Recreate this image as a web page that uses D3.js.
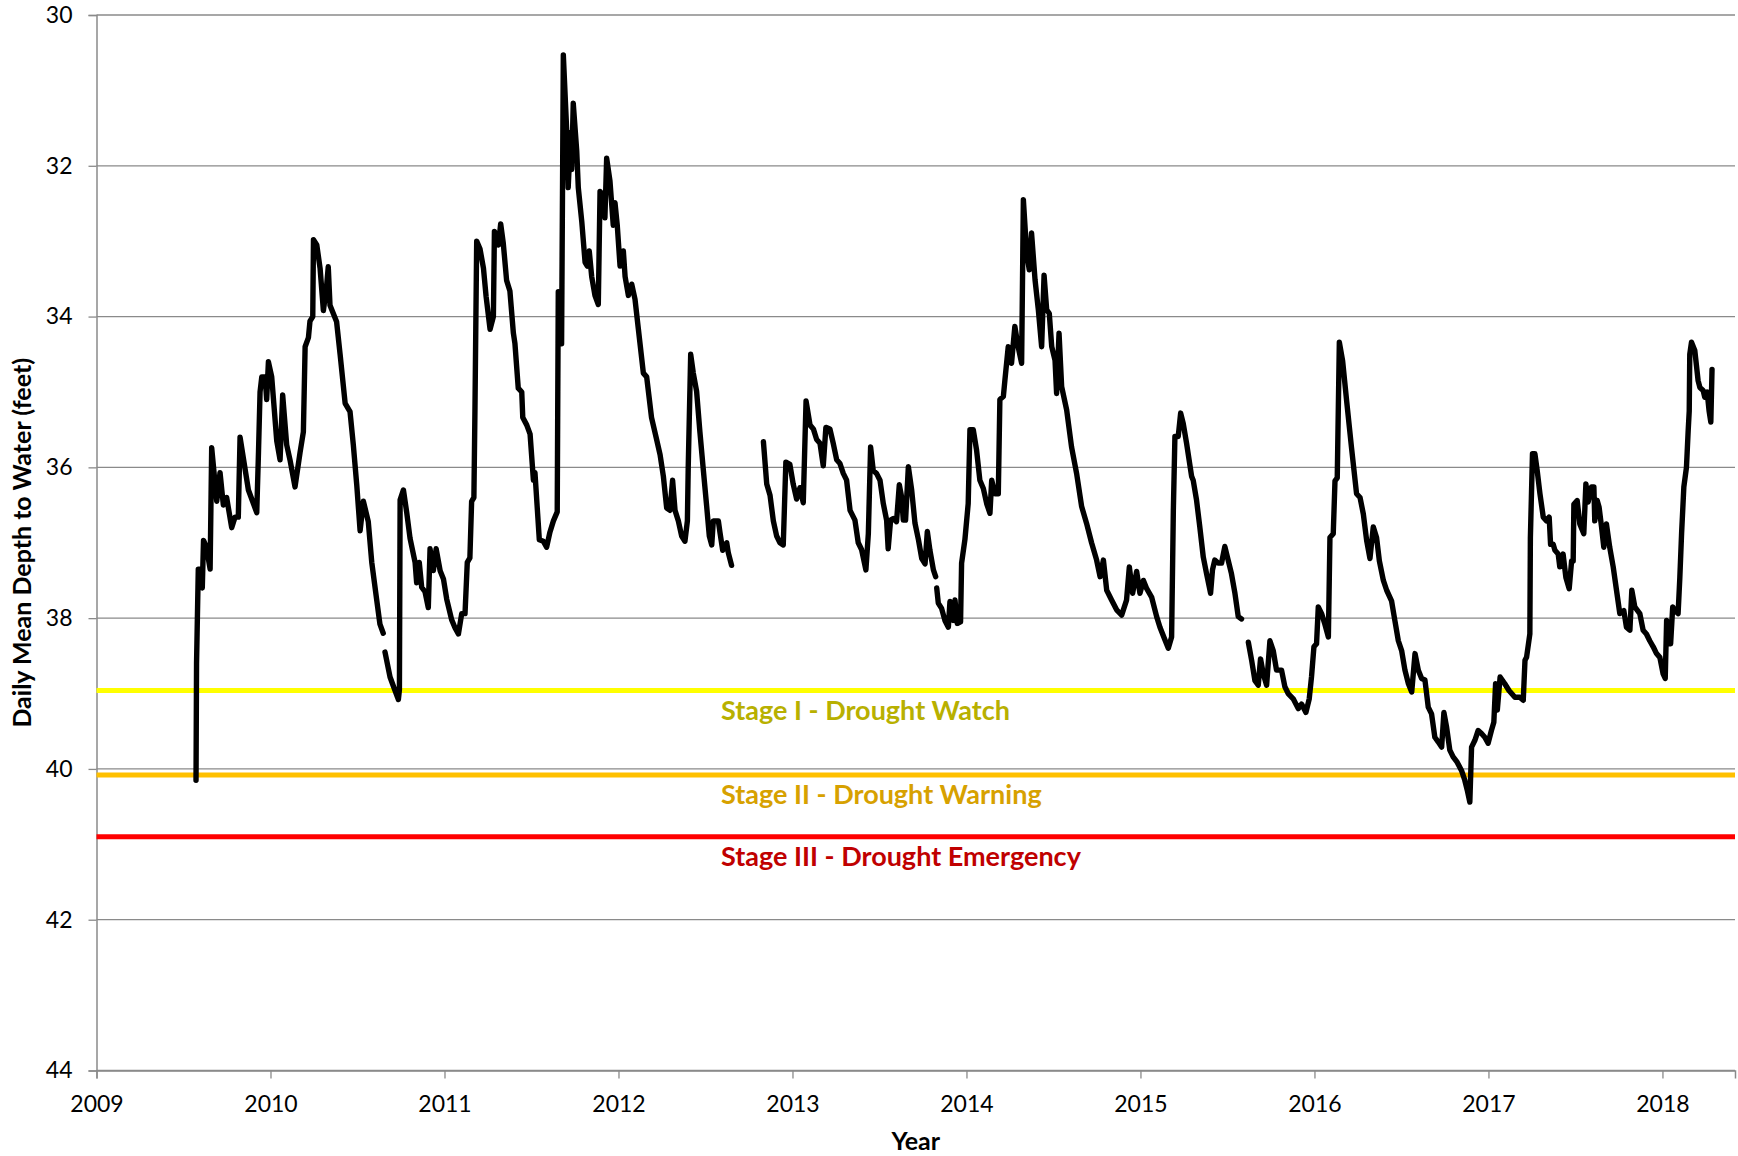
<!DOCTYPE html>
<html>
<head>
<meta charset="utf-8">
<script src="https://cdn.jsdelivr.net/npm/d3@7"></script>
<style>
  html, body { margin: 0; padding: 0; background: #fff; }
  svg { display: block; font-family: Lato, "Open Sans", sans-serif; }
</style>
</head>
<body>
<svg id="chart" width="1738" height="1156"></svg>
<script>
// data: [decimal year, depth to water in feet]
// the record has gaps, so it is kept as separate runs
const run2009 = [
  [2009.572,40.15],[2009.575,38.6],[2009.585,37.35],[2009.599,37.35],[2009.608,37.6],[2009.615,36.97],
  [2009.631,37.05],[2009.653,37.35],[2009.662,35.74],[2009.691,36.45],[2009.710,36.07],[2009.729,36.5],
  [2009.748,36.4],[2009.777,36.8],[2009.796,36.66],[2009.815,36.66],[2009.825,35.6],[2009.873,36.3],
  [2009.921,36.6],[2009.931,35.8],[2009.940,35.0],[2009.950,34.8],[2009.969,34.8],[2009.978,35.1],
  [2009.988,34.6],[2010.007,34.8],[2010.036,35.65],[2010.055,35.9],[2010.070,35.04],[2010.093,35.7],
  [2010.112,35.9],[2010.141,36.26],[2010.170,35.8],[2010.189,35.53],[2010.199,34.4],[2010.218,34.28],
  [2010.227,34.06],[2010.243,34.0],[2010.247,32.98],[2010.266,33.05],[2010.285,33.36],[2010.304,33.92],
  [2010.323,33.58],[2010.332,33.34],[2010.342,33.85],[2010.361,33.96],[2010.380,34.07],[2010.400,34.5],
  [2010.429,35.15],[2010.457,35.26],[2010.476,35.7],[2010.496,36.24],[2010.515,36.84],[2010.534,36.45],
  [2010.562,36.72],[2010.582,37.26],[2010.610,37.75],[2010.629,38.08],[2010.648,38.2]
];

const run2010 = [
  [2010.658,38.45],[2010.687,38.78],[2010.706,38.9],[2010.735,39.08],[2010.741,38.95],[2010.745,36.43],
  [2010.764,36.3],[2010.783,36.6],[2010.802,36.94],[2010.831,37.26],[2010.840,37.53],[2010.855,37.26],
  [2010.869,37.59],[2010.888,37.65],[2010.907,37.86],[2010.917,37.08],[2010.936,37.37],[2010.952,37.08],
  [2010.975,37.37],[2010.994,37.48],[2011.013,37.75],[2011.041,38.02],[2011.061,38.13],[2011.080,38.21],
  [2011.099,37.94],[2011.118,37.94],[2011.131,37.26],[2011.146,37.2],[2011.156,36.45],[2011.169,36.4],
  [2011.175,35.26],[2011.185,33.0],[2011.204,33.1],[2011.224,33.36],[2011.239,33.73],[2011.262,34.17],
  [2011.281,34.0],[2011.287,32.87],[2011.310,33.05],[2011.323,32.77],[2011.338,33.03],[2011.357,33.52],
  [2011.376,33.66],[2011.396,34.22],[2011.405,34.36],[2011.424,34.95],[2011.444,35.0],[2011.450,35.34],
  [2011.473,35.44],[2011.492,35.56],[2011.511,36.17],[2011.520,36.07],[2011.545,36.96],[2011.568,36.98],
  [2011.587,37.06],[2011.606,36.86],[2011.626,36.71],[2011.648,36.59],[2011.654,33.67],[2011.664,34.36],
  [2011.673,34.36],[2011.683,30.53],[2011.703,31.56],[2011.711,32.29],[2011.725,31.56],[2011.731,32.05],
  [2011.740,31.17],[2011.760,31.8],[2011.769,32.29],[2011.789,32.74],[2011.808,33.28],[2011.821,33.33],
  [2011.832,33.13],[2011.846,33.47],[2011.865,33.72],[2011.884,33.84],[2011.894,32.34],[2011.913,32.39],
  [2011.922,32.69],[2011.932,31.9],[2011.951,32.2],[2011.970,32.79],[2011.980,32.49],[2011.993,32.79],
  [2012.009,33.33],[2012.028,33.13],[2012.038,33.47],[2012.057,33.72],[2012.076,33.57],[2012.095,33.77],
  [2012.114,34.16],[2012.143,34.75],[2012.162,34.8],[2012.190,35.34],[2012.219,35.63],[2012.239,35.83],
  [2012.258,36.12],[2012.277,36.54],[2012.296,36.57],[2012.311,36.17],[2012.325,36.57],[2012.344,36.71],
  [2012.363,36.91],[2012.382,36.98],[2012.396,36.71],[2012.401,35.98],[2012.415,34.5],[2012.430,34.75],
  [2012.449,34.99],[2012.468,35.53],[2012.487,36.02],[2012.507,36.52],[2012.522,36.91],[2012.536,37.03],
  [2012.545,36.71],[2012.574,36.71],[2012.583,36.86],[2012.599,37.1],[2012.622,37.0],[2012.631,37.13],
  [2012.650,37.3]
];

const run2012 = [
  [2012.833,35.66],[2012.852,36.22],[2012.871,36.37],[2012.890,36.71],[2012.909,36.91],[2012.928,37.0],
  [2012.947,37.03],[2012.962,35.93],[2012.985,35.96],[2013.004,36.22],[2013.024,36.42],[2013.043,36.27],
  [2013.062,36.47],[2013.078,35.12],[2013.101,35.44],[2013.120,35.49],[2013.139,35.63],[2013.158,35.68],
  [2013.177,35.98],[2013.192,35.47],[2013.215,35.49],[2013.234,35.68],[2013.254,35.9],[2013.273,35.95],
  [2013.292,36.08],[2013.311,36.17],[2013.331,36.57],[2013.359,36.7],[2013.378,37.0],[2013.397,37.09],
  [2013.422,37.36],[2013.436,36.88],[2013.449,35.73],[2013.464,36.04],[2013.483,36.08],[2013.503,36.17],
  [2013.522,36.48],[2013.541,36.7],[2013.550,37.08],[2013.564,36.7],[2013.579,36.68],[2013.598,36.72],
  [2013.614,36.23],[2013.627,36.39],[2013.637,36.7],[2013.650,36.7],[2013.666,35.99],[2013.685,36.3],
  [2013.704,36.74],[2013.724,36.96],[2013.743,37.21],[2013.762,37.28],[2013.775,36.85],[2013.790,37.1],
  [2013.810,37.36],[2013.823,37.45]
];

const run2013 = [
  [2013.829,37.6],[2013.838,37.8],[2013.857,37.87],[2013.876,38.03],[2013.896,38.12],[2013.905,37.78],
  [2013.924,38.03],[2013.934,37.76],[2013.947,38.07],[2013.966,38.05],[2013.972,37.27],[2013.991,36.96],
  [2014.010,36.48],[2014.020,35.5],[2014.039,35.5],[2014.058,35.77],[2014.077,36.17],[2014.097,36.28],
  [2014.116,36.48],[2014.135,36.61],[2014.145,36.17],[2014.164,36.35],[2014.183,36.35],[2014.192,35.1],
  [2014.212,35.06],[2014.221,34.84],[2014.240,34.4],[2014.259,34.62],[2014.278,34.13],[2014.297,34.4],
  [2014.317,34.62],[2014.327,32.45],[2014.346,33.16],[2014.361,33.38],[2014.374,32.89],[2014.394,33.51],
  [2014.413,33.91],[2014.432,34.4],[2014.446,33.45],[2014.461,33.91],[2014.476,33.96],[2014.490,34.4],
  [2014.509,34.58],[2014.518,35.02],[2014.532,34.22],[2014.547,34.93],[2014.576,35.24],[2014.604,35.73],
  [2014.633,36.08],[2014.662,36.52],[2014.690,36.74],[2014.719,37.0],[2014.748,37.23],[2014.768,37.45],
  [2014.787,37.23],[2014.806,37.63],[2014.834,37.76],[2014.863,37.89],[2014.892,37.96],[2014.920,37.76],
  [2014.936,37.32],[2014.955,37.67],[2014.978,37.38],[2014.997,37.67],[2015.017,37.5],[2015.036,37.61],
  [2015.064,37.72],[2015.093,37.98],[2015.112,38.12],[2015.141,38.29],[2015.160,38.4],[2015.179,38.25],
  [2015.189,36.57],[2015.198,35.59],[2015.217,35.59],[2015.231,35.28],[2015.246,35.42],[2015.265,35.68],
  [2015.294,36.12],[2015.303,36.17],[2015.322,36.43],[2015.341,36.79],[2015.361,37.19],[2015.380,37.41],
  [2015.403,37.67],[2015.414,37.36],[2015.427,37.23],[2015.446,37.27],[2015.466,37.27],[2015.485,37.05],
  [2015.504,37.23],[2015.523,37.41],[2015.543,37.67],[2015.562,37.98],[2015.581,38.01]
];

const run2015 = [
  [2015.620,38.32],[2015.639,38.56],[2015.658,38.83],[2015.677,38.89],[2015.690,38.54],[2015.706,38.74],
  [2015.725,38.89],[2015.744,38.3],[2015.763,38.43],[2015.782,38.69],[2015.811,38.69],[2015.830,38.91],
  [2015.849,39.0],[2015.878,39.07],[2015.907,39.2],[2015.926,39.14],[2015.951,39.25],[2015.970,39.07],
  [2015.983,38.78],[2015.997,38.38],[2016.012,38.34],[2016.022,37.85],[2016.041,37.94],[2016.060,38.08],
  [2016.080,38.25],[2016.089,36.93],[2016.108,36.88],[2016.118,36.18],[2016.131,36.14],[2016.143,34.34],
  [2016.162,34.59],[2016.185,35.12],[2016.213,35.74],[2016.242,36.35],[2016.262,36.4],[2016.281,36.62],
  [2016.300,36.97],[2016.319,37.21],[2016.338,36.79],[2016.357,36.93],[2016.373,37.24],[2016.396,37.5],
  [2016.415,37.63],[2016.443,37.77],[2016.462,38.03],[2016.482,38.3],[2016.501,38.43],[2016.520,38.69],
  [2016.540,38.87],[2016.559,38.98],[2016.578,38.47],[2016.597,38.69],[2016.616,38.8],[2016.635,38.82],
  [2016.654,39.18],[2016.673,39.27],[2016.692,39.58],[2016.711,39.64],[2016.731,39.71],[2016.744,39.25],
  [2016.759,39.44],[2016.778,39.75],[2016.797,39.84],[2016.820,39.91],[2016.845,40.02],[2016.864,40.15],
  [2016.878,40.28],[2016.893,40.44],[2016.903,39.71],[2016.922,39.62],[2016.941,39.49],[2016.960,39.53],
  [2016.979,39.58],[2016.998,39.66],[2017.017,39.49],[2017.031,39.38],[2017.041,38.87],[2017.051,39.22],
  [2017.067,38.78],[2017.094,38.87],[2017.118,38.96],[2017.152,39.05],[2017.180,39.05],[2017.200,39.09],
  [2017.210,38.56],[2017.219,38.52],[2017.238,38.21],[2017.241,36.93],[2017.253,35.82],[2017.267,35.82],
  [2017.280,36.04],[2017.296,36.35],[2017.315,36.66],[2017.334,36.71],[2017.349,36.66],[2017.357,37.02],
  [2017.372,37.02],[2017.382,37.1],[2017.401,37.15],[2017.410,37.32],[2017.429,37.15],[2017.445,37.46],
  [2017.464,37.61],[2017.478,37.24],[2017.487,37.24],[2017.491,36.49],[2017.510,36.44],[2017.525,36.75],
  [2017.548,36.88],[2017.560,36.22],[2017.573,36.46],[2017.592,36.26],[2017.606,36.26],[2017.611,36.71],
  [2017.625,36.44],[2017.636,36.53],[2017.650,36.79],[2017.663,37.06],[2017.678,36.75],[2017.697,37.06],
  [2017.717,37.32],[2017.736,37.63],[2017.755,37.94],[2017.778,37.9],[2017.793,38.12],[2017.813,38.16],
  [2017.824,37.63],[2017.841,37.85],[2017.870,37.94],[2017.889,38.16],[2017.908,38.21],[2017.927,38.3],
  [2017.947,38.38],[2017.966,38.47],[2017.985,38.52],[2018.004,38.74],[2018.016,38.8],[2018.024,38.03],
  [2018.039,38.07],[2018.047,38.34],[2018.059,37.85],[2018.071,37.9],[2018.090,37.94],[2018.100,37.46],
  [2018.110,36.88],[2018.123,36.26],[2018.138,36.0],[2018.148,35.51],[2018.154,35.25],[2018.157,34.5],
  [2018.167,34.34],[2018.186,34.45],[2018.205,34.85],[2018.215,34.94],[2018.234,34.98],[2018.243,35.07],
  [2018.257,35.0],[2018.268,35.25],[2018.278,35.4],[2018.285,34.7]
];

const runs = [run2009, run2010, run2012, run2013, run2015];

// drought trigger levels
const stageNames = ["Stage I - Drought Watch", "Stage II - Drought Warning", "Stage III - Drought Emergency"];
const stageDepths = [38.96, 40.08, 40.9];

// axis ticks
const yearTicks = [2009, 2010, 2011, 2012, 2013, 2014, 2015, 2016, 2017, 2018];
const depthTicks = [30, 32, 34, 36, 38, 40, 42, 44];

// styles
const stageLineColors = ["#ffff00", "#ffc000", "#ff0000"];
const stageTextColors = ["#b8b000", "#d7a100", "#c00000"];
const gridColor = "#8a8a8a";

const plot = { left: 96.5, right: 1735, top: 15, bottom: 1070.5 };

const svg = d3.select("#chart");

const x = d3.scaleLinear()
  .domain([2009, 2018.417])
  .range([plot.left, plot.right]);

const y = d3.scaleLinear()
  .domain([30, 44])
  .range([plot.top, plot.bottom]);

// horizontal gridlines
svg.append("g")
  .attr("class", "grid")
  .selectAll("line")
  .data(depthTicks)
  .join("line")
  .attr("x1", plot.left)
  .attr("x2", plot.right)
  .attr("y1", d => y(d))
  .attr("y2", d => y(d))
  .attr("stroke", gridColor)
  .attr("stroke-width", 1.3);

// y axis
const yAxis = svg.append("g")
  .attr("transform", `translate(${plot.left},0)`)
  .call(d3.axisLeft(y).tickValues(depthTicks).tickSize(8).tickPadding(16).tickFormat(d3.format("d")));
yAxis.select(".domain").attr("stroke", gridColor).attr("stroke-width", 1.5);
yAxis.selectAll(".tick line").attr("stroke", gridColor).attr("stroke-width", 1.3);
yAxis.selectAll(".tick text")
  .attr("fill", "#000")
  .attr("font-size", 23)
  .attr("font-family", "Lato, sans-serif");

// x axis
const xAxis = svg.append("g")
  .attr("transform", `translate(0,${plot.bottom})`)
  .call(d3.axisBottom(x).tickValues(yearTicks).tickSize(8).tickFormat(d3.format("d")));
xAxis.select(".domain").attr("stroke", gridColor).attr("stroke-width", 1.5);
xAxis.selectAll(".tick line").attr("stroke", gridColor).attr("stroke-width", 1.3);
xAxis.selectAll(".tick text")
  .attr("fill", "#000")
  .attr("font-size", 23)
  .attr("font-family", "Lato, sans-serif")
  .attr("dy", null)
  .attr("y", 41);

// drought stage lines + labels
const stageG = svg.append("g").attr("class", "stages");
stageG.selectAll("line")
  .data(stageDepths)
  .join("line")
  .attr("x1", plot.left)
  .attr("x2", plot.right)
  .attr("y1", d => y(d))
  .attr("y2", d => y(d))
  .attr("stroke", (d, i) => stageLineColors[i])
  .attr("stroke-width", 5);

stageG.selectAll("text")
  .data(stageNames)
  .join("text")
  .attr("x", 721)
  .attr("y", (d, i) => y(stageDepths[i]) + 29)
  .attr("fill", (d, i) => stageTextColors[i])
  .attr("font-size", 27)
  .attr("font-weight", 700)
  .text(d => d);

// water level record
const line = d3.line()
  .x(d => x(d[0]))
  .y(d => y(d[1]));

svg.append("g")
  .attr("class", "series")
  .selectAll("path")
  .data(runs)
  .join("path")
  .attr("d", line)
  .attr("fill", "none")
  .attr("stroke", "#000")
  .attr("stroke-width", 5.4)
  .attr("stroke-linejoin", "round")
  .attr("stroke-linecap", "round");

// axis titles
svg.append("text")
  .attr("transform", `translate(31,${(plot.top + plot.bottom) / 2}) rotate(-90)`)
  .attr("text-anchor", "middle")
  .attr("font-size", 25)
  .attr("font-weight", 700)
  .text("Daily Mean Depth to Water (feet)");

svg.append("text")
  .attr("x", (plot.left + plot.right) / 2)
  .attr("y", 1150)
  .attr("text-anchor", "middle")
  .attr("font-size", 25)
  .attr("font-weight", 700)
  .text("Year");
</script>
</body>
</html>
